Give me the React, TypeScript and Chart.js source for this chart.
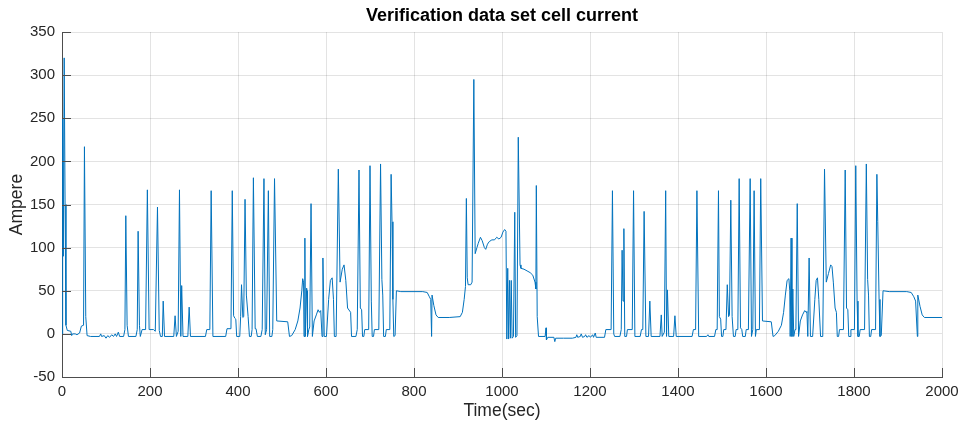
import React, { useEffect, useRef } from "react";
import { Chart, registerables } from "chart.js";

Chart.register(...registerables);

const chartTitle = "Verification data set cell current";
const xAxisTitle = "Time(sec)";
const yAxisTitle = "Ampere";
const xMin = 0;
const xMax = 2000;
const xStep = 200;
const yMin = -50;
const yMax = 350;
const yStep = 50;

// [time (s), current (A)] samples
const segmentStart: number[][] = [
  [0, 0], [1, 120], [2, 250], [3, 90], [5, 320], [7, 150], [9, 10], [12, 4], [20, 3], [22, -2],
  [24, 0], [30, 0], [34, -1], [40, 1], [44, 9], [49, 10], [51, 217], [54, 20], [57, -2], [65, -3],
  [85, -3], [88, 0], [90, -3], [96, -2], [100, -5], [104, -2], [108, -4], [113, -1], [117, -3], [121, 0],
  [124, -3], [128, 2], [131, -3], [140, -3], [143, 5], [145, 137], [148, 10], [151, -3], [168, -3], [171, 5],
  [173, 119], [176, 10], [178, -3], [182, 5], [190, 5], [194, 167], [198, 5], [208, 5], [212, 3], [217, 147],
  [221, 4], [224, -3], [228, -3], [230, 38], [233, -3], [254, -3], [257, 21], [260, -3], [264, 3], [267, 167],
  [270, -3], [272, 56], [275, -3], [286, -3], [289, 31], [292, -3], [326, -3], [329, 5], [336, 5], [339, 166],
  [343, -3], [372, -3], [375, 6], [384, 6], [387, 166], [390, 21], [393, 18], [395, 17], [397, -3], [404, -3],
  [406, 20], [408, 57], [411, 19], [413, 20], [416, 156], [419, 45], [423, 20], [426, -3], [430, -3], [432, 5],
  [435, 181], [439, 6], [441, 6], [444, -3], [452, -3], [455, 5], [459, 180], [462, -1], [465, 5], [469, 166],
  [472, -3], [477, -3], [479, 5], [483, 180], [488, 15], [513, 14], [517, -3],
];

const segmentMiddle: number[][] = [
  [522, -2], [530, 5], [536, 15], [541, 30], [545, 50], [547, 64], [549, 60], [550, -3], [552, 111], [553, -3],
  [556, 53], [557, 50], [558, -3], [561, 5], [563, 8], [566, 151], [569, -3], [573, 15], [578, 22], [582, 28],
  [585, 25], [588, 27], [591, -3], [593, 88], [596, -3], [601, -3], [606, 40], [610, 62], [614, 65], [617, 40],
  [619, -3], [623, -3], [628, 191], [632, 60], [637, 75], [641, 80], [645, 62], [649, 30], [656, 25], [658, -3],
  [668, -3], [671, 5], [675, 190], [678, 30], [681, 28], [683, -3], [686, -3], [688, 5], [697, 5], [700, 195],
  [703, 38], [705, -3], [708, -3], [710, 5], [720, 5], [724, 197], [727, 63], [729, 45], [731, -3], [735, -3],
  [737, 5], [745, 5], [748, 185], [750, 130], [752, 40], [754, -3], [757, -2], [760, 50], [770, 49], [800, 49],
  [820, 49], [830, 48], [835, 43], [838, 40], [840, -3], [841, 45], [845, 33], [850, 22], [855, 19], [880, 19],
  [905, 20], [910, 25], [914, 40], [917, 55], [919, 157], [921, 65], [923, 57], [929, 57], [932, 60], [936, 295],
  [939, 93], [943, 100], [946, 105], [951, 112], [955, 108], [960, 100], [963, 98], [967, 104], [971, 107], [977, 109],
  [983, 109], [988, 112], [993, 110], [998, 112], [1002, 118], [1006, 121], [1009, 119], [1011, -6], [1013, 76], [1015, -6],
  [1017, 62], [1019, -5], [1021, 62], [1023, -5], [1026, -3], [1029, 141], [1031, -4], [1034, -2], [1037, 228], [1041, 80],
  [1043, 76], [1050, 75], [1057, 73], [1064, 71], [1070, 68], [1075, 60], [1077, 52], [1078, 172], [1080, 20], [1083, -3],
];

const segmentQuiet: number[][] = [
  [1098, -3], [1100, 7], [1101, -7], [1104, -4], [1118, -4], [1120, -9], [1122, -5], [1140, -5], [1160, -5], [1168, -4],
  [1170, -1], [1172, -4], [1178, -3], [1180, 0], [1183, -4], [1188, -3], [1190, -1], [1193, -4], [1198, -2], [1201, -4],
  [1206, -1], [1208, -4], [1212, 1], [1214, -4], [1233, -4], [1236, 5], [1248, 5], [1251, 166], [1254, 0], [1256, -3],
  [1268, -3], [1271, 5], [1273, 97], [1275, 38], [1277, 122], [1279, -3], [1283, -3], [1285, 5], [1296, 5], [1299, 166],
  [1302, -3], [1314, -3], [1317, 5], [1320, 5], [1323, 142], [1327, -3], [1333, -3], [1336, 38], [1339, -3], [1359, -3],
  [1362, 22], [1364, -3], [1369, 2], [1372, 166], [1374, -3], [1376, 51], [1379, -3], [1390, -3], [1393, 21], [1396, -3],
  [1432, -3], [1435, 5], [1440, 5], [1443, 166], [1447, -3], [1465, -3], [1468, -1], [1470, -3], [1483, -3], [1486, 5],
  [1489, 5], [1492, 166], [1494, 20], [1497, 17], [1499, -3], [1502, -3], [1504, 5], [1509, 5], [1512, 57], [1515, 20],
  [1517, 22], [1520, 155], [1523, 20], [1526, -3], [1530, -3], [1532, 5], [1536, 5], [1539, 180], [1542, 7], [1545, 5],
  [1547, -3], [1553, -3], [1555, 5], [1560, 5], [1564, 180], [1567, -3], [1570, 5], [1573, 166], [1576, -3], [1578, 5],
  [1585, 5], [1588, 180], [1592, 15], [1612, 14], [1616, -3],
];

const segmentEnd: number[][] = [
  [1620, -2], [1628, 3], [1635, 10], [1640, 25], [1644, 45], [1648, 62], [1652, 64], [1654, 50], [1655, -3], [1657, 111],
  [1659, -3], [1661, 52], [1663, -3], [1666, 5], [1668, 8], [1671, 151], [1674, -3], [1678, 15], [1683, 22], [1688, 27],
  [1691, 25], [1693, 26], [1695, -3], [1698, 88], [1701, -3], [1706, -3], [1711, 40], [1714, 62], [1717, 65], [1720, 40],
  [1724, -3], [1729, -3], [1733, 191], [1737, 60], [1742, 70], [1747, 80], [1750, 78], [1753, 60], [1757, 30], [1760, 25],
  [1762, -3], [1765, -3], [1767, 5], [1776, 5], [1780, 190], [1783, 30], [1786, 28], [1788, -3], [1791, -3], [1793, 5],
  [1801, 5], [1804, 195], [1807, 38], [1809, -3], [1812, -3], [1814, 5], [1824, 5], [1828, 197], [1831, 63], [1833, 45],
  [1835, -3], [1838, -3], [1840, 5], [1849, 5], [1852, 185], [1854, 130], [1857, 40], [1859, -3], [1862, -2], [1866, 50],
  [1880, 49], [1920, 49], [1930, 48], [1936, 43], [1940, 38], [1944, -3], [1945, 45], [1950, 32], [1955, 22], [1960, 19],
  [2000, 19],
];

const FONT = "'Liberation Sans', Arial, Helvetica, sans-serif";
const AXIS_COLOR = "#4d4d4d";
const TEXT_COLOR = "#262626";

const innerTicks = {
  id: "innerTicks",
  afterDatasetsDraw(chart: any) {
    const { ctx, chartArea, scales } = chart;
    const len = 9;
    ctx.save();
    ctx.strokeStyle = AXIS_COLOR;
    ctx.lineWidth = 1;
    ctx.beginPath();
    scales.x.ticks.forEach((t: any) => {
      const px = Math.round(scales.x.getPixelForValue(t.value)) + 0.5;
      ctx.moveTo(px, chartArea.bottom);
      ctx.lineTo(px, chartArea.bottom - len);
    });
    scales.y.ticks.forEach((t: any) => {
      const py = Math.round(scales.y.getPixelForValue(t.value)) + 0.5;
      ctx.moveTo(chartArea.left, py);
      ctx.lineTo(chartArea.left + len, py);
    });
    ctx.stroke();
    ctx.restore();
  },
};

export default function App() {
  const ref = useRef<HTMLCanvasElement | null>(null);

  useEffect(() => {
    if (!ref.current) return;
    const samples = [...segmentStart, ...segmentMiddle, ...segmentQuiet, ...segmentEnd];
    const chart = new Chart(ref.current, {
      type: "line",
      data: {
        datasets: [
          {
            data: samples.map(([x, y]) => ({ x, y })),
            borderColor: "#0072BD",
            borderWidth: 1,
            pointRadius: 0,
            tension: 0,
            fill: false,
          },
        ],
      },
      options: {
        responsive: false,
        animation: false,
        events: [],
        layout: { padding: { left: 0, right: 18, top: 0, bottom: 0 } },
        plugins: {
          legend: { display: false },
          tooltip: { enabled: false },
          title: {
            display: true,
            text: chartTitle,
            fullSize: false,
            color: "#000",
            font: { family: FONT, size: 18, weight: "bold" },
            padding: { top: 5, bottom: 5.4 },
          },
        },
        scales: {
          x: {
            type: "linear",
            min: xMin,
            max: xMax,
            ticks: {
              stepSize: xStep,
              color: TEXT_COLOR,
              font: { family: FONT, size: 15 },
              padding: 6,
              maxRotation: 0,
              callback: (v: any) => String(v),
            },
            grid: { color: "rgba(38,38,38,0.13)", drawTicks: false },
            border: { color: AXIS_COLOR, width: 1 },
            title: {
              display: true,
              text: xAxisTitle,
              color: TEXT_COLOR,
              font: { family: FONT, size: 17.5 },
              padding: { top: 0, bottom: 4.5 },
            },
            afterFit: (s: any) => {
              s.height = 49;
              s.paddingRight = 18;
              s.paddingLeft = 0;
            },
          },
          y: {
            type: "linear",
            min: yMin,
            max: yMax,
            ticks: {
              stepSize: yStep,
              color: TEXT_COLOR,
              font: { family: FONT, size: 15 },
              padding: 7,
              callback: (v: any) => String(v),
            },
            grid: { color: "rgba(38,38,38,0.13)", drawTicks: false },
            border: { color: AXIS_COLOR, width: 1 },
            title: {
              display: true,
              text: yAxisTitle,
              color: TEXT_COLOR,
              font: { family: FONT, size: 17.5 },
              padding: { top: 7, bottom: 0 },
            },
            afterFit: (s: any) => {
              s.width = 62;
            },
          },
        },
      },
      plugins: [innerTicks],
    });
    return () => chart.destroy();
  }, []);

  return (
    <div style={{ position: "absolute", left: 0, top: 0, width: 960, height: 426, background: "#fff" }}>
      <canvas ref={ref} width={960} height={426} style={{ display: "block" }} />
    </div>
  );
}
